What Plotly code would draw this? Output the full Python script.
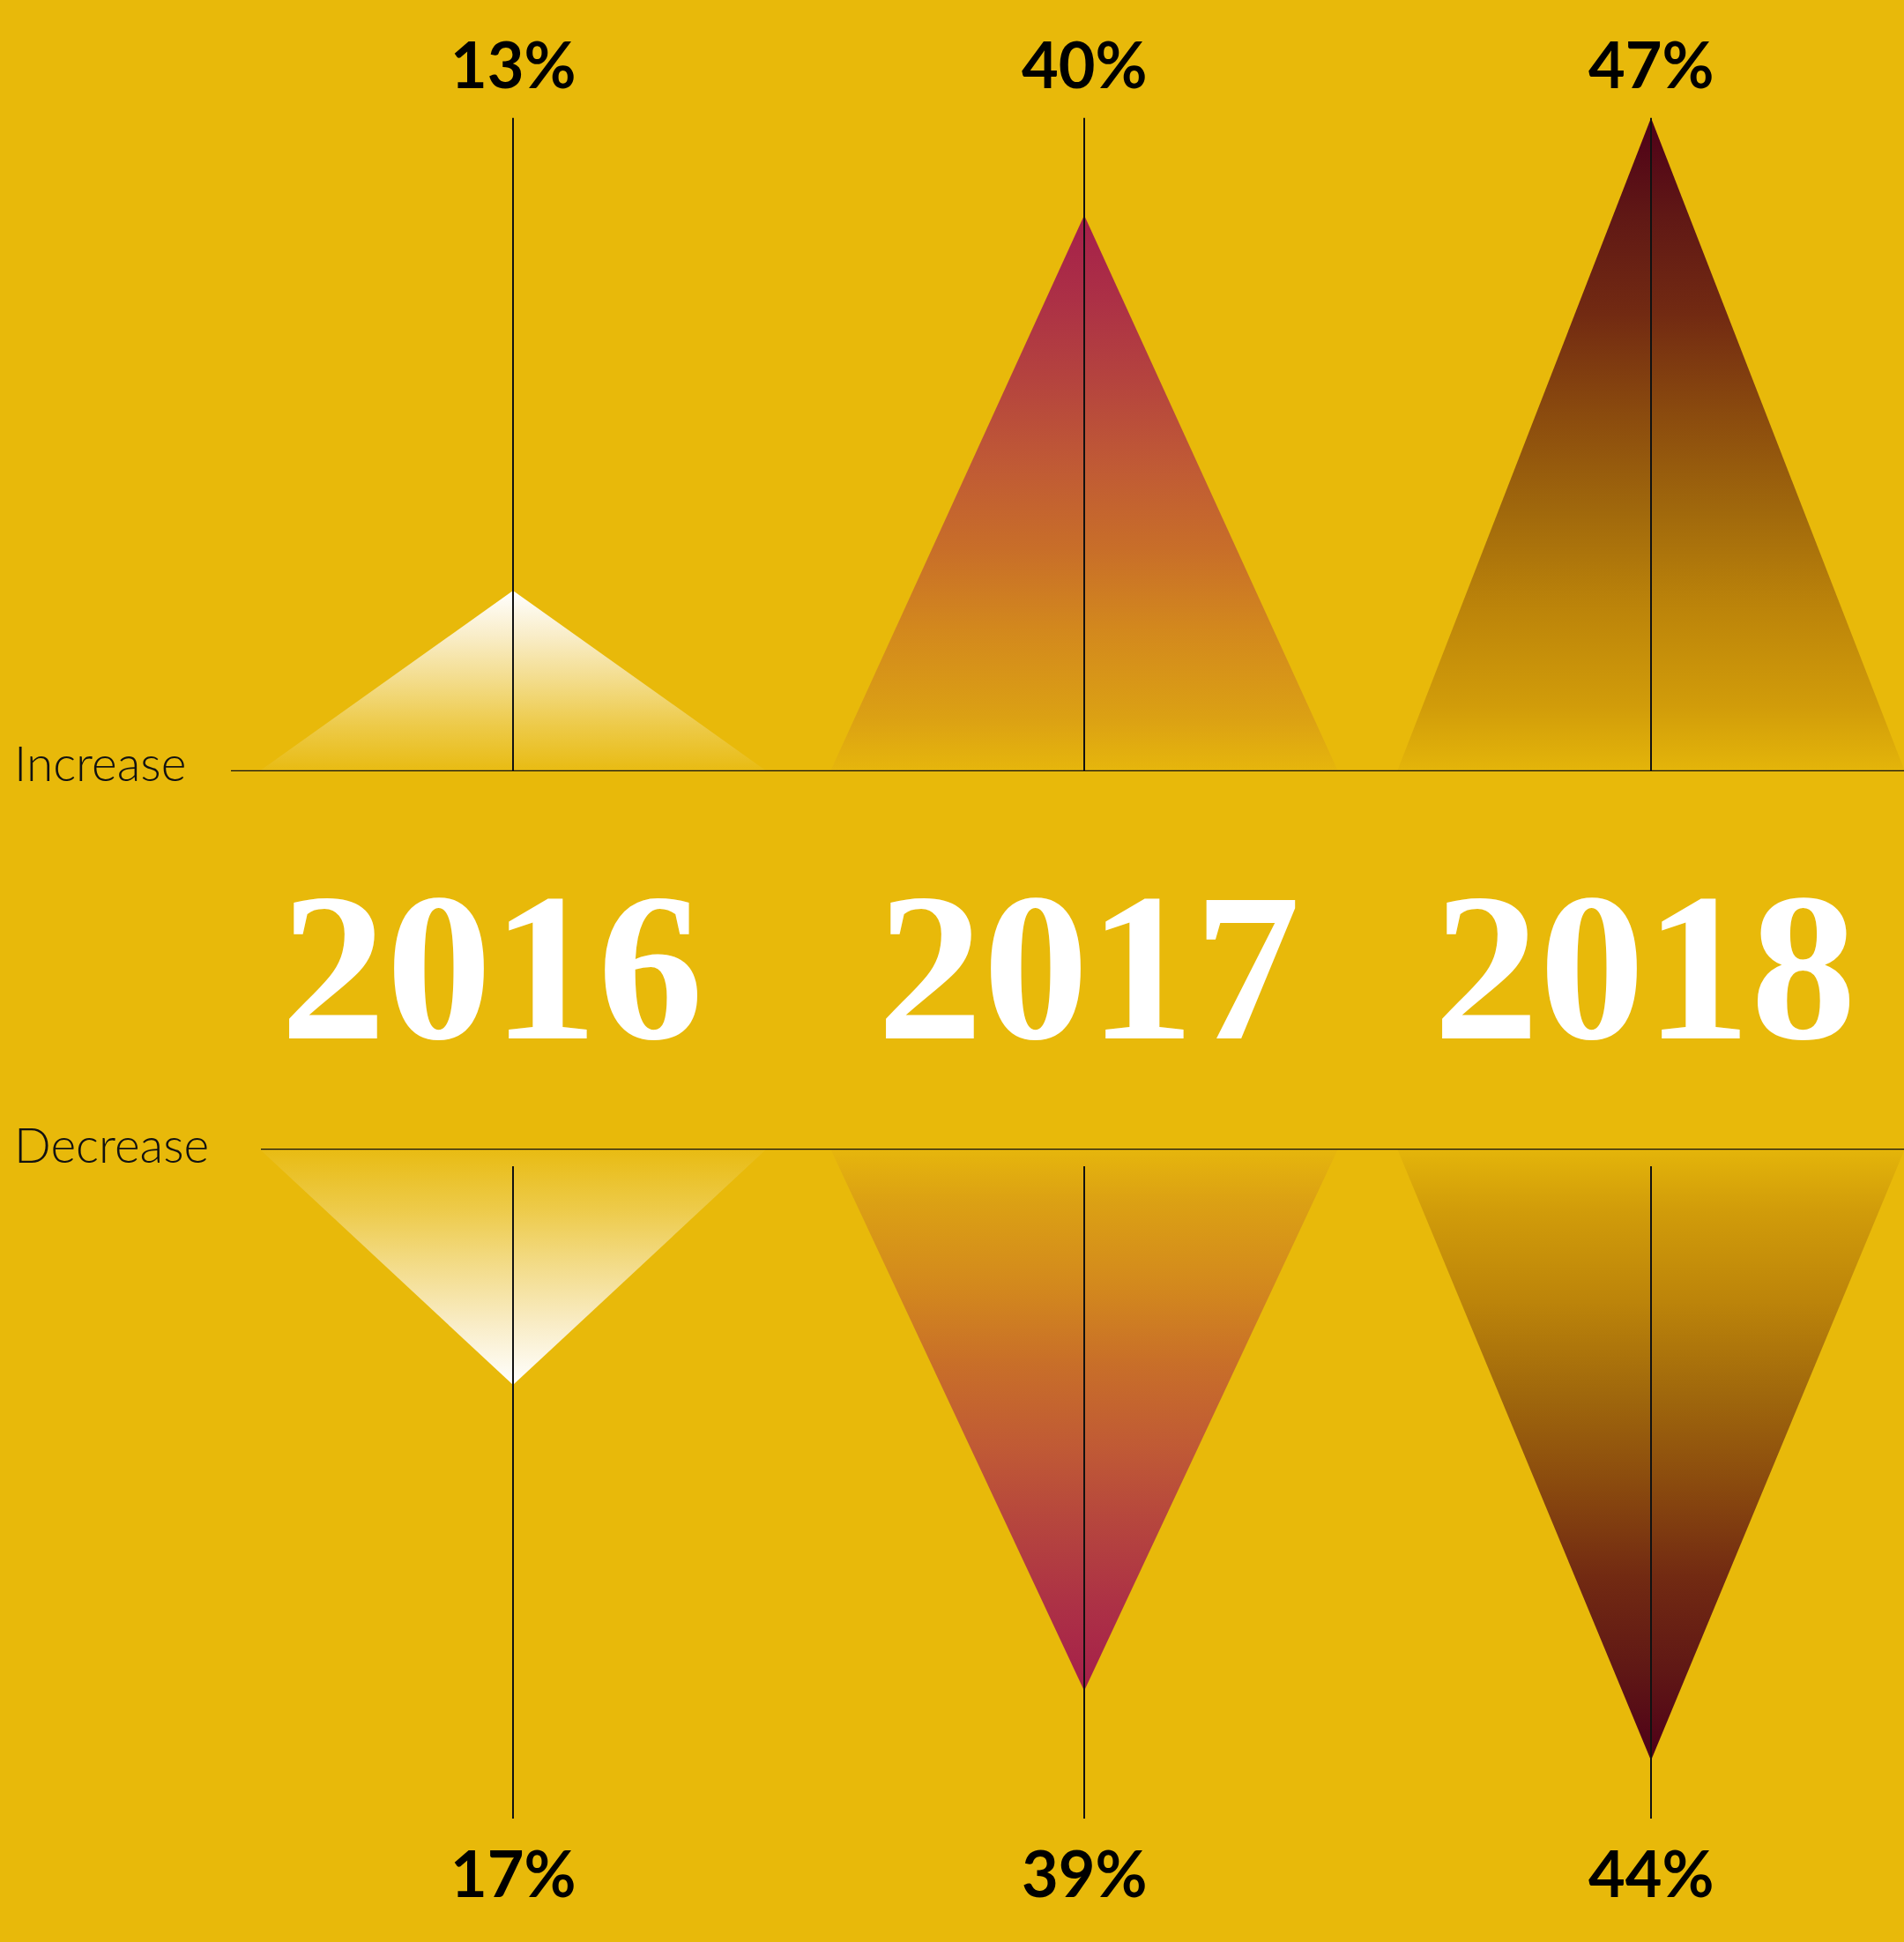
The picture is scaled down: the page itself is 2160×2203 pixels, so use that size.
import plotly.graph_objects as go

# ---- data ----
years = ["2016", "2017", "2018"]
increase = [13, 40, 47]
decrease = [17, 39, 44]
increase_labels = ["13%", "40%", "47%"]
decrease_labels = ["17%", "39%", "44%"]
row_labels = ["Increase", "Decrease"]

# ---- layout constants ----
BG = "#E8B90A"
W, H = 2160, 2203
centers = [582, 1230, 1873]
year_shift = [-24, 5, -7]
half_w = 288
PX = 15.77          # pixels per percentage point
UP_BASE = 875       # pixel row of the "Increase" baseline
DN_BASE = 1303      # pixel row of the "Decrease" baseline

colorscales = [
    [[0, "#E8BB12"], [0.25, "#EDCA48"], [0.5, "#F3DC8A"], [0.75, "#F9EDC8"], [1, "#FFFFFF"]],
    [[0, "#E6B60C"], [0.1, "#DBA014"], [0.25, "#D3891D"], [0.4, "#C86E29"],
     [0.55, "#C05A35"], [0.7, "#B5443E"], [0.85, "#AC3046"], [1, "#A51F4A"]],
    [[0, "#E4B50A"], [0.1, "#D19C0A"], [0.25, "#BC840A"], [0.4, "#A0680C"],
     [0.55, "#8A4A0E"], [0.7, "#722A12"], [0.85, "#601815"], [1, "#4E0018"]],
]


def flipped(scale):
    return [[1 - p, c] for p, c in reversed(scale)]


fig = go.Figure()
for i, yr in enumerate(years):
    c = centers[i]
    xs = [c - half_w, c, c + half_w, c - half_w]
    fig.add_trace(go.Scatter(
        x=xs, y=[0, increase[i], 0, 0], xaxis="x", yaxis="y",
        mode="lines", fill="toself", line=dict(width=0),
        fillgradient=dict(type="vertical", colorscale=colorscales[i]),
        hoverinfo="skip", showlegend=False, name=yr + " increase"))
    fig.add_trace(go.Scatter(
        x=xs, y=[0, decrease[i], 0, 0], xaxis="x2", yaxis="y2",
        mode="lines", fill="toself", line=dict(width=0),
        fillgradient=dict(type="vertical", colorscale=flipped(colorscales[i])),
        hoverinfo="skip", showlegend=False, name=yr + " decrease"))

shapes = []
line_style = dict(color="#111111", width=2.5)
shapes.append(dict(type="line", xref="x", yref="y", x0=262, x1=W, y0=0, y1=0, line=line_style))
shapes.append(dict(type="line", xref="x2", yref="y2", x0=296, x1=W, y0=0, y1=0, line=line_style))
top_len = max(increase)
for i, c in enumerate(centers):
    shapes.append(dict(type="line", xref="x", yref="y", x0=c, x1=c, y0=0, y1=top_len,
                       line=dict(color="#111111", width=2)))
    shapes.append(dict(type="line", xref="x2", yref="y2", x0=c, x1=c,
                       y0=20 / PX, y1=760 / PX, line=dict(color="#111111", width=2)))

annotations = []
pct_font = dict(family="Lato, Inter, sans-serif", size=72, color="#000000", weight=700)
for i, c in enumerate(centers):
    annotations.append(dict(text=increase_labels[i], xref="x", yref="paper", x=c,
                            y=1 - 72 / H, xanchor="center", yanchor="middle",
                            showarrow=False, font=pct_font))
    annotations.append(dict(text=decrease_labels[i], xref="x", yref="paper", x=c,
                            y=1 - 2124 / H, xanchor="center", yanchor="middle",
                            showarrow=False, font=pct_font))
    annotations.append(dict(text=years[i], xref="x", yref="paper", x=c, xshift=year_shift[i],
                            y=1 - 1097 / H, xanchor="center", yanchor="middle",
                            showarrow=False,
                            font=dict(family="Liberation Serif, serif", size=240,
                                      color="#FFFFFF", weight=700)))
row_font = dict(family="Lato, Inter, sans-serif", size=55, color="#111111", weight=300)
annotations.append(dict(text=row_labels[0], xref="paper", yref="paper", x=14 / W,
                        y=1 - 865 / H, xanchor="left", yanchor="middle",
                        showarrow=False, font=row_font))
annotations.append(dict(text=row_labels[1], xref="paper", yref="paper", x=14 / W,
                        y=1 - 1298 / H, xanchor="left", yanchor="middle",
                        showarrow=False, font=row_font))

axis_off = dict(visible=False, showgrid=False, zeroline=False, fixedrange=True)
fig.update_layout(
    width=W, height=H,
    margin=dict(l=0, r=0, t=0, b=0),
    paper_bgcolor=BG, plot_bgcolor=BG,
    xaxis=dict(range=[0, W], domain=[0, 1], anchor="y", **axis_off),
    yaxis=dict(range=[0, UP_BASE / PX], domain=[(H - UP_BASE) / H, 1], anchor="x", **axis_off),
    xaxis2=dict(range=[0, W], domain=[0, 1], anchor="y2", **axis_off),
    yaxis2=dict(range=[(H - DN_BASE) / PX, 0], domain=[0, (H - DN_BASE) / H], anchor="x2", **axis_off),
    shapes=shapes,
    annotations=annotations,
    showlegend=False,
)

fig.write_html(
    "out.html",
    config={"displayModeBar": False, "staticPlot": True},
    post_script="document.body.style.margin='0px';document.body.style.padding='0px';"
                "document.body.style.overflow='hidden';document.body.style.background='" + BG + "';",
)
